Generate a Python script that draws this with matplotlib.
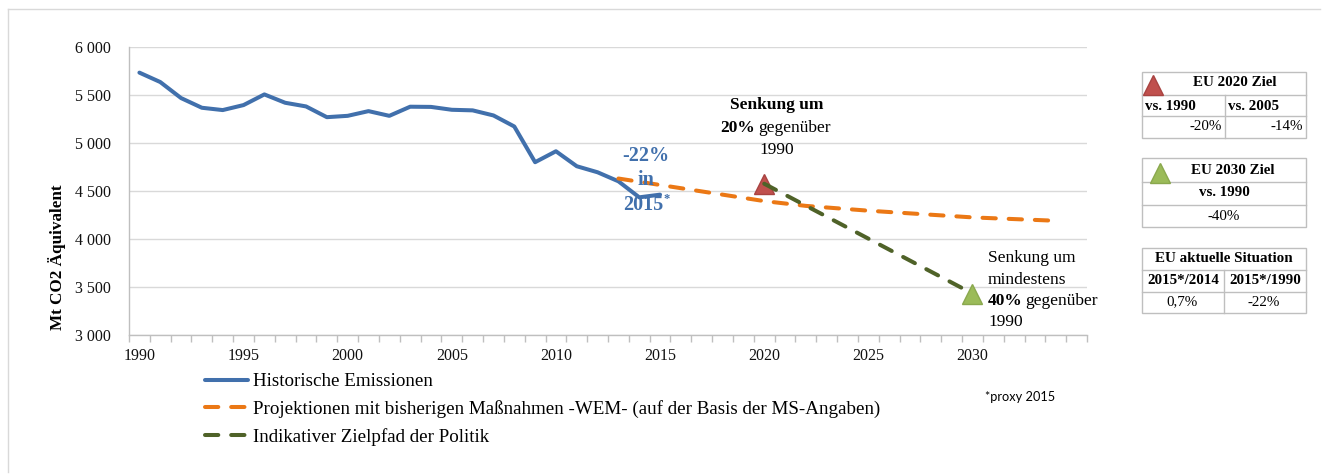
import matplotlib
matplotlib.use("Agg")
import matplotlib.pyplot as plt
from matplotlib.patches import Rectangle
from matplotlib.ticker import FuncFormatter, MultipleLocator, FixedLocator

# --- data ---
hist_years = list(range(1990, 2016))
hist_values = [5733, 5635, 5468, 5367, 5343, 5395, 5506, 5419, 5381, 5269,
               5283, 5332, 5283, 5378, 5376, 5346, 5340, 5287, 5172, 4800,
               4914, 4758, 4695, 4601, 4434, 4462]
wem_years = [2013, 2020, 2022, 2025, 2030, 2034]
wem_values = [4630, 4395, 4345, 4295, 4225, 4190]
target_years = [2020, 2030]
target_values = [4576, 3432]
target_2020 = (2020, 4576)
target_2030 = (2030, 3432)

labels = ["Historische Emissionen",
          "Projektionen mit bisherigen Maßnahmen -WEM- (auf der Basis der MS-Angaben)",
          "Indikativer Zielpfad der Politik"]

table_2020 = ["EU 2020 Ziel", ["vs. 1990", "vs. 2005"], ["-20%", "-14%"]]
table_2030 = ["EU 2030 Ziel", ["vs. 1990"], ["-40%"]]
table_now = ["EU aktuelle Situation", ["2015*/2014", "2015*/1990"], ["0,7%", "-22%"]]

BLUE = "#4170AC"
ORANGE = "#EB7815"
DGREEN = "#4F6228"
RED = "#C0504D"
LGREEN = "#9BBB59"
GRID = "#D9D9D9"
SERIF = "Liberation Serif"

W, H = 1325, 475
fig = plt.figure(figsize=(W / 100, H / 100), dpi=100)
fig.patch.set_facecolor("white")


def box(l, t, r, b):
    return [l / W, 1 - b / H, (r - l) / W, (b - t) / H]


ax = fig.add_axes(box(129, 47, 1087, 335))
ax.plot(hist_years, hist_values, color=BLUE, lw=2.9, solid_capstyle="round",
        solid_joinstyle="round", label=labels[0], zorder=3)
ax.plot(wem_years, wem_values, color=ORANGE, lw=2.9, dashes=(3.3, 3.2),
        dash_capstyle="round", label=labels[1], zorder=3)
ax.plot(target_years, target_values, color=DGREEN, lw=2.9, dashes=(3.3, 3.2),
        dash_capstyle="round", label=labels[2], zorder=3)
ax.plot(*target_2020, marker="^", ms=14, color=RED, mec="#A84341", zorder=2)
ax.plot(*target_2030, marker="^", ms=14, color=LGREEN, mec="#8AA84E", zorder=4)

ax.set_xlim(1989.5, 2035.5)
ax.set_ylim(3000, 6000)
ax.yaxis.set_major_locator(MultipleLocator(500))
ax.yaxis.set_major_formatter(FuncFormatter(lambda v, p: f"{int(v):,}".replace(",", " ")))
ax.grid(axis="y", color=GRID, lw=1)
ax.set_axisbelow(True)
ax.xaxis.set_major_locator(FixedLocator(list(range(1990, 2031, 5))))
ax.xaxis.set_minor_locator(FixedLocator([y + 0.5 for y in range(1989, 2036)]))
ax.tick_params(axis="x", which="major", length=0, pad=9, labelsize=11.5, labelcolor="#111111")
ax.tick_params(axis="x", which="minor", length=5, color="#BFBFBF", width=1)
ax.tick_params(axis="y", length=0, pad=13, labelsize=11.5, labelcolor="#111111")
for lab in ax.get_xticklabels() + ax.get_yticklabels():
    lab.set_fontfamily(SERIF)
for s in ["top", "right"]:
    ax.spines[s].set_visible(False)
for s in ["left", "bottom"]:
    ax.spines[s].set_color("#BFBFBF")
    ax.spines[s].set_linewidth(1)

fig.text(57 / W, 1 - 257 / H, "Mt CO2 Äquivalent", rotation=90, ha="center", va="center",
         fontsize=12.3, fontweight="bold", family=SERIF)

leg = fig.legend(loc="upper left", bbox_to_anchor=(205 / W, 1 - 373 / H), frameon=False,
                 prop={"family": SERIF, "size": 13.7}, handlelength=2.25,
                 handletextpad=0.25, labelspacing=0.52, borderaxespad=0, borderpad=0)

# overlay in pixel coordinates for annotations and side tables
ov = fig.add_axes([0, 0, 1, 1], zorder=5)
ov.set_xlim(0, W)
ov.set_ylim(H, 0)
ov.axis("off")
ov.patch.set_alpha(0)
renderer = fig.canvas.get_renderer()


def after(txt, gap=3):
    # x pixel position just right of an already drawn text
    bb = txt.get_window_extent(renderer)
    return bb.x1 + gap


# frame
ov.plot([8, 1320], [9, 9], color="#D9D9D9", lw=1)
ov.plot([8, 8], [9, 472], color="#D9D9D9", lw=1)

kw = dict(family=SERIF, va="center")
ov.text(646, 156, "-22%", color=BLUE, fontsize=14.5, fontweight="bold", ha="center", **kw)
ov.text(646, 180, "in", color=BLUE, fontsize=14.5, fontweight="bold", ha="center", **kw)
t2015 = ov.text(643, 205, "2015", color=BLUE, fontsize=14.5, fontweight="bold", ha="center", **kw)
ov.text(after(t2015, 0), 199, "*", color=BLUE, fontsize=9, fontweight="bold", ha="left", **kw)

ov.text(777, 105, "Senkung um", fontsize=12.5, fontweight="bold", ha="center", **kw)
ov.text(755, 128, "20%", fontsize=12.5, fontweight="bold", ha="right", **kw)
ov.text(758, 128, "gegenüber", fontsize=12.5, ha="left", **kw)
ov.text(777, 150, "1990", fontsize=12.5, ha="center", **kw)

ov.text(988, 258, "Senkung um", fontsize=12.5, ha="left", **kw)
ov.text(988, 280, "mindestens", fontsize=12.5, ha="left", **kw)
t40 = ov.text(988, 301, "40%", fontsize=12.5, fontweight="bold", ha="left", **kw)
ov.text(after(t40), 301, "gegenüber", fontsize=12.5, ha="left", **kw)
ov.text(988, 322, "1990", fontsize=12.5, ha="left", **kw)

ov.text(985, 397, "*proxy 2015", family="Lato", fontsize=9.2, ha="left", va="center")

# side tables
EDGE = "#BFBFBF"
L, R = 1142, 1306


def hline(y, x0=L, x1=R):
    ov.plot([x0, x1], [y, y], color=EDGE, lw=1)


def vline(x, y0, y1):
    ov.plot([x, x], [y0, y1], color=EDGE, lw=1)


tkw = dict(family=SERIF, fontsize=10.8, va="center")

# EU 2020
t, r1, r2, b = 72, 94.5, 116, 137.5
ov.add_patch(Rectangle((L, t), R - L, b - t, fill=False, ec=EDGE, lw=1))
hline(r1)
hline(r2)
vline(1225, r1, b)
ov.plot(1153, 85, marker="^", ms=14, color=RED, mec="#A84341")
ov.text(1235, 83, table_2020[0], fontweight="bold", ha="center", **tkw)
ov.text(1145, 106, table_2020[1][0], fontweight="bold", ha="left", **tkw)
ov.text(1228, 106, table_2020[1][1], fontweight="bold", ha="left", **tkw)
ov.text(1222, 127, table_2020[2][0], ha="right", **tkw)
ov.text(1303, 127, table_2020[2][1], ha="right", **tkw)

# EU 2030
t, r1, r2, b = 158, 181.5, 204.5, 226.5
ov.add_patch(Rectangle((L, t), R - L, b - t, fill=False, ec=EDGE, lw=1))
hline(r1)
hline(r2)
ov.plot(1160, 173, marker="^", ms=14, color=LGREEN, mec="#8AA84E")
ov.text(1233, 170, table_2030[0], fontweight="bold", ha="center", **tkw)
ov.text(1224, 193, table_2030[1][0], fontweight="bold", ha="center", **tkw)
ov.text(1224, 216, table_2030[2][0], ha="center", **tkw)

# current situation
t, r1, r2, b = 247.5, 269.5, 291.5, 313
ov.add_patch(Rectangle((L, t), R - L, b - t, fill=False, ec=EDGE, lw=1))
hline(r1)
hline(r2)
vline(1224, r1, b)
ov.text(1224, 259, table_now[0], fontweight="bold", ha="center", **tkw)
ov.text(1183, 281, table_now[1][0], fontweight="bold", ha="center", **tkw)
ov.text(1265, 281, table_now[1][1], fontweight="bold", ha="center", **tkw)
ov.text(1182, 302, table_now[2][0], ha="center", **tkw)
ov.text(1264, 302, table_now[2][1], ha="center", **tkw)

fig.savefig("out.png", dpi=100, facecolor="white")
